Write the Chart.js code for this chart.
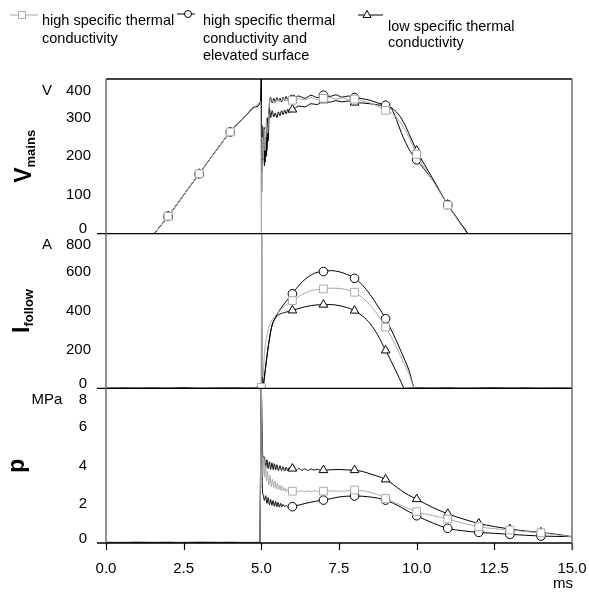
<!DOCTYPE html>
<html><head><meta charset="utf-8">
<style>html,body{margin:0;padding:0;background:#fff;}#wrap{position:relative;width:589px;height:592px;}</style>
<script src="https://cdn.jsdelivr.net/npm/chart.js@4.4.1/dist/chart.umd.min.js"></script>
</head><body><div id="wrap"><canvas id="c" width="589" height="592"></canvas></div>
<script>
// ---------- DATA ----------
const seriesNames = [
  ["high specific thermal", "conductivity"],
  ["high specific thermal", "conductivity and", "elevated surface"],
  ["low specific thermal", "conductivity"]
];
const panelTitles = [["V", "mains"], ["I", "follow"], ["p", ""]];
const panelUnits = ["V", "A", "MPa"];
const xTicks = [0, 2.5, 5, 7.5, 10, 12.5, 15];
const xUnit = "ms";
const vTicks = [0, 100, 200, 300, 400];
const iTicks = [0, 200, 400, 600, 800];
const pTicks = [0, 2, 4, 6, 8];
const vMarkT = [2, 3, 4, 6, 7, 8, 9, 10, 11];
const iMarkT = [5, 6, 7, 8, 9];
const pMarkT = [6, 7, 8, 9, 10, 11, 12, 13, 14];

// Mains voltage (V)
const vT_sq = [1.55,2,2.5,3,3.5,4,4.5,4.8,4.98,5, 5.01,5.03,5.06,5.09,5.12,5.16,5.2,5.25,5.3,5.4, 5.5,5.6,5.7,5.8,5.9,6,6.2,6.4,6.6,6.8, 7,7.2,7.4,7.6,7.8,8,8.25,8.5,8.75,9, 9.25,9.5,9.75,10,10.5,11,11.62];
const vV_sq = [0,45,100,155,210,263,305,328,342,0, 120,250,195,270,215,290,260,330,348,338, 346,342,350,344,351,345,349,346,352,347, 350,352,348,351,347,348,343,338,330,319, 308,285,250,205,140,74,0];
const vT_ci = [1.55,2,2.5,3,3.5,4,4.5,4.8,4.98,5, 5.01,5.02,5.04,5.07,5.1,5.13,5.16,5.19,5.22,5.26, 5.3,5.35,5.4,5.45,5.5,5.55,5.6,5.65,5.7,5.75, 5.8,5.85,5.9,5.95,6,6.2,6.4,6.6,6.8,7, 7.2,7.4,7.6,7.8,8,8.25,8.5,8.75,9,9.2, 9.35,9.5,9.65,9.8,10,10.5,11,11.65];
const vV_ci = [0,45,100,155,210,263,305,328,342,400, 107,280,190,265,175,245,200,300,240,335, 352,338,350,340,352,343,350,341,353,345, 355,346,352,344,347,356,350,358,352,358, 355,359,353,356,352,349,345,338,332,322, 295,262,235,212,191,140,75,0];
const vT_tr = [1.55,2,2.5,3,3.5,4,4.5,4.8,4.98,5, 5.01,5.03,5.06,5.09,5.12,5.15,5.18,5.22,5.26,5.3, 5.35,5.4,5.45,5.5,5.55,5.6,5.65,5.7,5.75,5.8, 5.85,5.9,5.95,6,6.2,6.4,6.6,6.8,7,7.2, 7.4,7.6,7.8,8,8.25,8.5,8.75,9,9.25,9.45, 9.6,9.8,10,10.5,11,11.65];
const vV_tr = [0,45,100,155,210,263,305,328,342,400, 160,255,200,275,185,250,215,290,325,300, 318,302,312,300,315,305,318,308,320,310, 322,313,324,321,330,328,336,334,345,340, 344,341,343,339,338,336,333,330,322,305, 285,250,215,145,75,0];

// Follow current (A)
const iT_sq = [0,0.5,1,1.5,2,2.5,3,3.5,4,4.5, 4.95,5,5.01,5.02,5.05,5.1,5.2,5.3,5.4,5.5, 5.75,6,6.25,6.5,6.75,7,7.25,7.5,7.75,8, 8.25,8.5,8.75,9,9.25,9.5,9.75,9.95, 10.5,11,11.5,12,12.5,13,13.5,14,14.5,15];
const iV_sq = [2,0,3,1,2,0,3,1,2,0, 0,5,800,430,60,180,290,340,365,385, 425,454,480,500,510,514,518,517,510,497, 470,430,380,317,245,160,75,0, 3,1,4,2,0,3,1,4,2,3];
const iT_ci = [0,0.5,1,1.5,2,2.5,3,3.5,4,4.5, 4.95,5,5.01,5.015,5.05,5.1,5.2,5.33,5.5,5.75, 6,6.25,6.5,6.75,7,7.25,7.5,7.75,8,8.25, 8.5,8.75,9,9.25,9.5,9.75,9.95, 10.5,11,11.5,12,12.5,13,13.5,14,14.5,15];
const iV_ci = [0,2,1,3,0,2,1,0,3,1, 0,3,800,440,5,60,190,316,380,440, 489,540,575,598,604,609,603,590,569,535, 485,425,360,280,190,95,0, 2,0,3,1,2,0,3,1,2,0];
const iT_tr = [0,0.5,1,1.5,2,2.5,3,3.5,4,4.5, 4.95,5,5.05,5.1,5.2,5.33,5.5,5.75,6,6.25, 6.5,6.75,7,7.25,7.5,7.75,8,8.25,8.5,8.75, 9,9.15,9.3,9.45,9.62, 10,10.5,11,11.5,12,12.5,13,13.5,14,14.5,15];
const iV_tr = [1,0,2,0,1,3,0,2,1,0, 2,0,5,60,190,316,372,392,403,415, 425,431,433,433,428,418,402,375,335,275, 196,150,100,50,0, 2,1,3,0,2,1,3,0,2,1,2];

// Pressure (MPa)
const pT_sq = [0,0.5,1,1.5,2,2.5,3,3.5,4,4.5, 4.95,5,5.02,5.05,5.08,5.11,5.14,5.17,5.2,5.24, 5.28,5.32,5.36,5.4,5.44,5.48,5.52,5.56,5.6,5.64, 5.68,5.72,5.76,5.8,5.85,5.9,5.95,6,6.1,6.2, 6.3,6.4,6.5,6.6,6.7,6.8,6.9,7,7.25,7.5, 7.75,8,8.25,8.5,8.75,9,9.5,10,10.5,11, 11.5,12,12.5,13,13.5,14,14.5,15];
const pV_sq = [0.06,0.04,0.07,0.05,0.06,0.04,0.07,0.05,0.06,0.04, 0.05,8,5.2,3.5,4.4,3.4,4.0,3.2,3.7,3.0, 3.5,2.9,3.3,2.85,3.2,2.8,3.1,2.75,3.0,2.7, 2.95,2.7,2.85,2.65,2.8,2.62,2.75,2.68,2.72,2.66, 2.7,2.65,2.7,2.66,2.71,2.67,2.7,2.68,2.69,2.68, 2.7,2.74,2.7,2.62,2.5,2.3,1.95,1.62,1.42,1.24, 1.02,0.84,0.74,0.67,0.59,0.53,0.42,0.33];
const pT_ci = [0,0.5,1,1.5,2,2.5,3,3.5,4,4.5, 4.95,5,5.03,5.06,5.1,5.14,5.18,5.22,5.26,5.3, 5.34,5.38,5.42,5.46,5.5,5.54,5.58,5.62,5.66,5.7, 5.75,5.8,5.85,5.9,5.95,6,6.25,6.5,6.75,7, 7.25,7.5,7.75,8,8.25,8.5,8.75,9,9.25,9.5, 9.75,10,10.5,11,11.5,12,12.5,13,13.5,14, 14.5,15];
const pV_ci = [0.02,0.03,0.01,0.02,0.03,0.01,0.02,0.03,0.01,0.02, 0.02,8,3.0,2.48,2.2,2.45,2.05,2.35,1.98,2.25, 1.95,2.2,1.9,2.15,1.88,2.1,1.85,2.05,1.86,2.0, 1.88,1.95,1.87,1.92,1.86,1.88,1.98,2.08,2.16,2.22, 2.3,2.38,2.42,2.43,2.42,2.38,2.32,2.22,2.05,1.85, 1.62,1.41,1.05,0.76,0.63,0.55,0.5,0.45,0.4,0.36, 0.34,0.33];
const pT_tr = [0,0.5,1,1.5,2,2.5,3,3.5,4,4.5, 4.95,5,5.02,5.05,5.1,5.14,5.18,5.22,5.26,5.3, 5.34,5.38,5.42,5.46,5.5,5.55,5.6,5.65,5.7,5.75, 5.8,5.85,5.9,5.95,6,6.1,6.2,6.3,6.4,6.5, 6.6,6.7,6.8,6.9,7,7.25,7.5,7.75,8,8.25, 8.5,8.75,9,9.25,9.5,9.75,10,10.5,11,11.5, 12,12.5,13,13.5,14,14.5,15];
const pV_tr = [0.02,0.01,0.03,0.02,0.01,0.03,0.02,0.01,0.03,0.02, 0.02,8,6.2,4.45,4.45,3.9,4.3,3.85,4.2,3.8, 4.15,3.8,4.1,3.78,4.05,3.75,4.0,3.75,3.95,3.72, 3.92,3.74,3.9,3.75,3.85,3.74,3.86,3.76,3.84,3.75, 3.83,3.77,3.82,3.76,3.77,3.79,3.8,3.78,3.77,3.7, 3.58,3.45,3.29,3.02,2.72,2.47,2.27,1.85,1.51,1.24, 1.01,0.85,0.72,0.62,0.55,0.45,0.33];

// ---------- STYLE ----------
const FONT = "'Liberation Sans', Arial, Helvetica, sans-serif";
const GRAY = '#aaaaaa';
const BLACK = '#000000';
const seriesStyle = [
  {color: GRAY, pointStyle: 'rect', radius: 5.5},
  {color: BLACK, pointStyle: 'circle', radius: 4.3},
  {color: BLACK, pointStyle: 'triangle', radius: 5}
];
Chart.defaults.font.family = FONT;
Chart.defaults.color = '#000';

function pts(ts, vs) { return ts.map((t, i) => ({x: t, y: vs[i]})); }

const panels = [
  {axis: 'yV', marks: vMarkT, series: [[vT_sq, vV_sq], [vT_ci, vV_ci], [vT_tr, vV_tr]]},
  {axis: 'yI', marks: iMarkT, series: [[iT_sq, iV_sq], [iT_ci, iV_ci], [iT_tr, iV_tr]]},
  {axis: 'yP', marks: pMarkT, series: [[pT_sq, pV_sq], [pT_ci, pV_ci], [pT_tr, pV_tr]]}
];

const datasets = [];
panels.forEach(pn => {
  pn.series.forEach((s, k) => {
    const st = seriesStyle[k];
    datasets.push({
      label: seriesNames[k].join(' '),
      data: pts(s[0], s[1]),
      yAxisID: pn.axis,
      borderColor: st.color,
      borderWidth: 1,
      pointStyle: st.pointStyle,
      pointRadius: ctx => (ctx.raw && pn.marks.includes(ctx.raw.x)) ? st.radius : 0,
      pointBackgroundColor: '#fff',
      pointBorderColor: st.color,
      pointBorderWidth: 1,
      cubicInterpolationMode: 'monotone',
      fill: false
    });
  });
});

function yAxis(min, max, ticks) {
  return {
    type: 'linear', min: min, max: max, position: 'left', stack: 'panels', stackWeight: 1,
    grid: {display: false}, border: {display: false}, ticks: {display: false},
    afterBuildTicks: s => { s.ticks = ticks.map(v => ({value: v})); },
    afterFit: s => { s.width = 106; }
  };
}

const framePlugin = {
  id: 'frame',
  afterDatasetsDraw(chart) {
    const ctx = chart.ctx, a = chart.chartArea;
    const ys = [chart.scales.yV, chart.scales.yI, chart.scales.yP];
    const xs = chart.scales.x;
    ctx.save();
    ctx.strokeStyle = '#000'; ctx.lineWidth = 1.4;
    ctx.beginPath(); ctx.moveTo(a.left, ys[0].top); ctx.lineTo(a.right, ys[0].top); ctx.stroke();
    ys.forEach(s => {
      const y = s.getPixelForValue(0);
      ctx.beginPath(); ctx.moveTo(a.left - 9, y); ctx.lineTo(a.right, y); ctx.stroke();
    });
    // x tick marks
    ctx.lineWidth = 1.2;
    xTicks.forEach(v => {
      const x = Math.round(xs.getPixelForValue(v)) + 0.5;
      ctx.beginPath(); ctx.moveTo(x, a.bottom); ctx.lineTo(x, a.bottom + 7); ctx.stroke();
    });
    ctx.strokeStyle = '#666'; ctx.lineWidth = 1.4;
    ctx.beginPath(); ctx.moveTo(a.left, a.top); ctx.lineTo(a.left, a.bottom); ctx.stroke();
    ctx.beginPath(); ctx.moveTo(a.right, a.top); ctx.lineTo(a.right, a.bottom + 7); ctx.stroke();
    ctx.restore();
  },
  afterDraw(chart) {
    const ctx = chart.ctx, a = chart.chartArea;
    const ys = [chart.scales.yV, chart.scales.yI, chart.scales.yP];
    const tickSets = [vTicks, iTicks, pTicks];
    ctx.save();
    ctx.fillStyle = '#000';
    ctx.font = '15px ' + FONT;
    ctx.textBaseline = 'middle';
    ys.forEach((s, k) => {
      let topY = 0;
      tickSets[k].forEach(v => {
        const pix = s.getPixelForValue(v);
        const y = Math.min(Math.max(pix, s.top + 11.5), s.bottom - 4.5);
        const lbl = String(v);
        ctx.textAlign = 'right';
        ctx.fillText(lbl, lbl.length > 1 ? 91 : 87, y);
        if (v === tickSets[k][tickSets[k].length - 1]) topY = y;
      });
      ctx.textAlign = 'center';
      ctx.fillText(panelUnits[k], 47, topY);
    });
    // x unit
    ctx.textAlign = 'center'; ctx.textBaseline = 'middle';
    ctx.fillText(xUnit, chart.scales.x.getPixelForValue(15) - 9, 584);

    // axis titles (rotated, with subscript)
    const baseX = [31, 29, 24];
    ys.forEach((s, k) => {
      const cy = (s.top + s.bottom) / 2;
      const main = panelTitles[k][0], sub = panelTitles[k][1];
      ctx.save();
      ctx.translate(baseX[k], cy);
      ctx.rotate(-Math.PI / 2);
      ctx.textAlign = 'left'; ctx.textBaseline = 'alphabetic';
      ctx.font = 'bold 23px ' + FONT;
      const wm = ctx.measureText(main).width;
      ctx.font = 'bold 13px ' + FONT;
      const ws = sub ? ctx.measureText(sub).width : 0;
      const x0 = -(wm + ws) / 2;
      ctx.font = 'bold 23px ' + FONT;
      ctx.fillText(main, x0, 0);
      if (sub) { ctx.font = 'bold 13px ' + FONT; ctx.fillText(sub, x0 + wm, 4); }
      ctx.restore();
    });

    // legend
    const items = [
      {x0: 10, x1: 38, mx: 22, y: 15, tx: 42, ty: [25, 43]},
      {x0: 177, x1: 195, mx: 188, y: 14, tx: 203, ty: [25, 43, 60]},
      {x0: 358, x1: 383, mx: 367, y: 15, tx: 388, ty: [31, 47]}
    ];
    items.forEach((it, k) => {
      const st = seriesStyle[k];
      ctx.strokeStyle = st.color; ctx.lineWidth = 1;
      ctx.beginPath(); ctx.moveTo(it.x0, it.y); ctx.lineTo(it.x1, it.y); ctx.stroke();
      ctx.fillStyle = '#fff';
      ctx.beginPath();
      if (st.pointStyle === 'rect') { const h = 3.5; ctx.rect(it.mx - h, it.y - h, 2 * h, 2 * h); }
      else if (st.pointStyle === 'circle') { ctx.arc(it.mx, it.y, 3.5, 0, Math.PI * 2); }
      else { ctx.moveTo(it.mx, it.y - 4.5); ctx.lineTo(it.mx + 4, it.y + 2.5); ctx.lineTo(it.mx - 4, it.y + 2.5); ctx.closePath(); }
      ctx.fill(); ctx.stroke();
      ctx.fillStyle = '#000';
      ctx.font = '14.5px ' + FONT; ctx.textAlign = 'left'; ctx.textBaseline = 'alphabetic';
      seriesNames[k].forEach((line, j) => ctx.fillText(line, it.tx, it.ty[j]));
    });
    ctx.restore();
  }
};

new Chart(document.getElementById('c'), {
  type: 'line',
  data: {datasets: datasets},
  options: {
    responsive: false, animation: false, events: [],
    layout: {padding: {top: 79, right: 17, left: 0, bottom: 0}},
    plugins: {legend: {display: false}, tooltip: {enabled: false}},
    scales: {
      x: {
        type: 'linear', min: 0, max: 15,
        afterBuildTicks: s => { s.ticks = xTicks.map(v => ({value: v})); },
        ticks: {callback: v => v.toFixed(1), font: {size: 15}, color: '#000', padding: 1, maxRotation: 0, autoSkip: false},
        grid: {drawOnChartArea: false, drawTicks: true, tickLength: 16, color: 'rgba(0,0,0,0)'},
        border: {display: false},
        afterFit: s => { s.height = 49; }
      },
      yP: yAxis(0, 8, pTicks),
      yI: yAxis(0, 800, iTicks),
      yV: yAxis(0, 400, vTicks)
    }
  },
  plugins: [framePlugin]
});
</script></body></html>
